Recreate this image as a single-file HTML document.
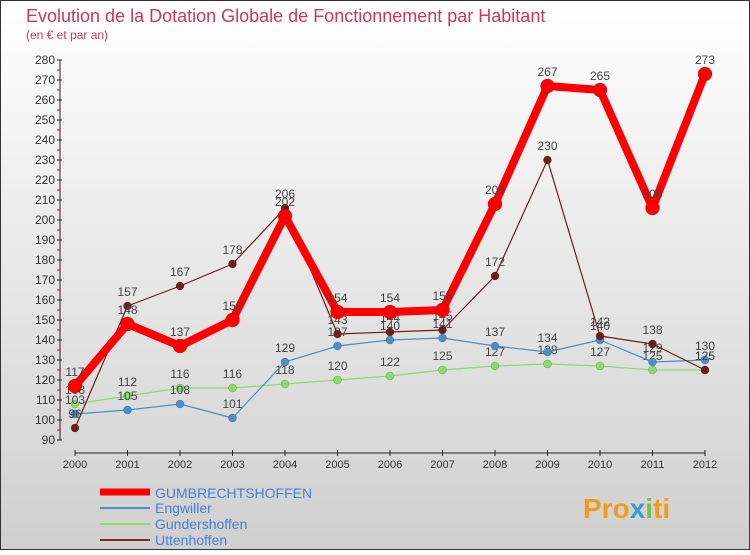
<!DOCTYPE html>
<html><head><meta charset="utf-8"><style>
html,body{margin:0;padding:0}
body{width:750px;height:550px;overflow:hidden;font-family:"Liberation Sans",sans-serif}
</style></head><body>
<svg width="750" height="550" xmlns="http://www.w3.org/2000/svg">
<defs><linearGradient id="bg" x1="0" y1="0" x2="0" y2="1"><stop offset="0" stop-color="#ffffff"/><stop offset="1" stop-color="#cfcfcf"/></linearGradient></defs>
<rect x="0.5" y="0.5" width="749" height="549" fill="url(#bg)" stroke="#333"/>
<text x="26" y="22" font-size="18" fill="#c8385f">Evolution de la Dotation Globale de Fonctionnement par Habitant</text>
<text x="26" y="39" font-size="12" fill="#c8385f">(en € et par an)</text>
<g id="axes"></g><g id="series"></g>
<g>
<line x1="100" y1="492" x2="150" y2="492" stroke="#f00" stroke-width="7"/><text x="155" y="498" font-size="14" fill="#4a7fd0">GUMBRECHTSHOFFEN</text>
<line x1="100" y1="508" x2="150" y2="508" stroke="#4a90c8" stroke-width="2"/><text x="155" y="513" font-size="14" fill="#4a7fd0">Engwiller</text>
<line x1="100" y1="524" x2="150" y2="524" stroke="#88dd66" stroke-width="2"/><text x="155" y="529" font-size="14" fill="#4a7fd0">Gundershoffen</text>
<line x1="100" y1="540" x2="150" y2="540" stroke="#7a2a2a" stroke-width="2"/><text x="155" y="545" font-size="14" fill="#4a7fd0">Uttenhoffen</text>
</g>
<text x="583" y="518" font-size="28" font-weight="bold" fill="#f39a1e">Pro<tspan fill="#3a9ad9">x</tspan><tspan fill="#7cc242">i</tspan><tspan fill="#f39a1e">ti</tspan></text>
</svg>
<script>
const years=["2000","2001","2002","2003","2004","2005","2006","2007","2008","2009","2010","2011","2012"];
const gumb=[117,148,137,150,202,154,154,155,208,267,265,206,273];
const engw=[103,105,108,101,129,137,140,141,137,134,140,129,130];
const gund=[108,112,116,116,118,120,122,125,127,128,127,125,125];
const utt=[96,157,167,178,206,143,144,145,172,230,142,138,125];
const yTicks=[90,100,110,120,130,140,150,160,170,180,190,200,210,220,230,240,250,260,270,280];
const NS="http://www.w3.org/2000/svg";
const x=i=>75+i*52.5, y=v=>440-(v-90)*2;
function mk(t,a,p){const e=document.createElementNS(NS,t);for(const k in a)e.setAttribute(k,a[k]);p.appendChild(e);return e;}
const ax=document.getElementById('axes');
mk('line',{x1:60,y1:60,x2:60,y2:440,stroke:'#222'},ax);
mk('line',{x1:75,y1:453,x2:705,y2:453,stroke:'#222'},ax);
yTicks.forEach(v=>{mk('line',{x1:57,y1:y(v),x2:62,y2:y(v),stroke:'#222'},ax);
 if(v<280)mk('line',{x1:57,y1:y(v+5),x2:60,y2:y(v+5),stroke:'#f00'},ax);
 const t=mk('text',{x:55,y:y(v)+4,'font-size':12,fill:'#333','text-anchor':'end'},ax);t.textContent=v;
 
 });
years.forEach((yr,i)=>{mk('line',{x1:x(i),y1:450,x2:x(i),y2:456,stroke:'#222'},ax);
 const t=mk('text',{x:x(i),y:468,'font-size':11,fill:'#333','text-anchor':'middle'},ax);t.textContent=yr;
 
 });
const sg=document.getElementById('series');
function series(d,col,w,r,name){const g=mk('g',{},sg);
 
 
 mk('polyline',{points:d.map((v,i)=>x(i)+','+y(v)).join(' '),fill:'none',stroke:col,'stroke-width':w,'stroke-linejoin':'round'},g);
 d.forEach((v,i)=>{const c=mk('circle',{cx:x(i),cy:y(v),r:r,fill:col,stroke:'rgba(0,0,0,0.3)','stroke-width':0.5},g);
  
  
  const t=mk('text',{x:x(i),y:y(v)-10,'font-size':12,fill:'#444','text-anchor':'middle'},g);t.textContent=v;
  
  });}
series(gund,'#88dd66',1.2,4,'series-gundershoffen');
series(engw,'#4a90c8',1.2,4,'series-engwiller');
series(utt,'#6e1c1c',1.2,4,'series-uttenhoffen');
series(gumb,'#ff0000',8,7,'series-gumbrechtshoffen');
</script>
</body></html>
